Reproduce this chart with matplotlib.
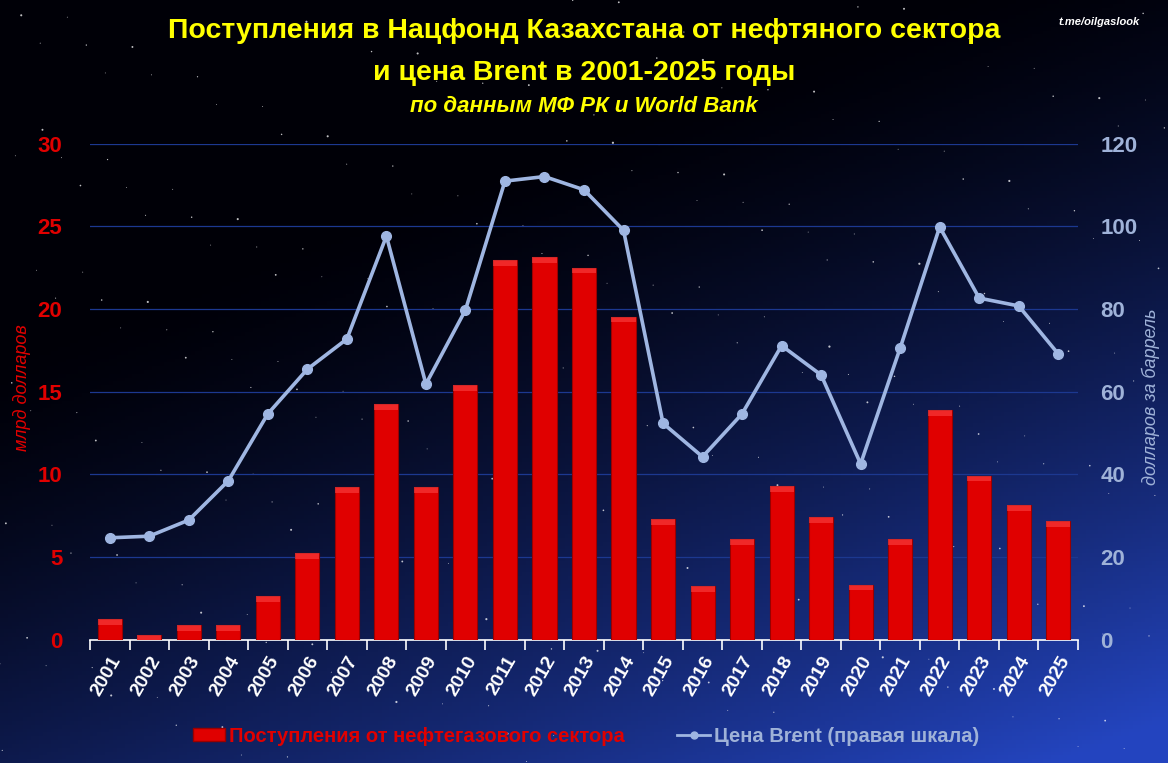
import numpy as np
import matplotlib
matplotlib.use('Agg')
import matplotlib.pyplot as plt
from matplotlib.lines import Line2D
from matplotlib.patches import Patch

years = [str(y) for y in range(2001, 2026)]
# поступления от нефтегазового сектора, млрд долларов
revenue = [1.25, 0.28, 0.89, 0.89, 2.62, 5.24, 9.24, 14.23, 9.24, 15.38,
           22.96, 23.12, 22.49, 19.53, 7.27, 3.25, 6.06, 9.27, 7.39, 3.32,
           6.06, 13.87, 9.91, 8.12, 7.15]
# цена Brent, долларов за баррель
brent = [24.6, 25.0, 28.9, 38.4, 54.6, 65.4, 72.7, 97.6, 61.8, 79.7,
         110.9, 112.0, 108.8, 99.0, 52.3, 44.2, 54.6, 71.1, 64.0, 42.5,
         70.5, 99.8, 82.6, 80.7, 69.1]

W, H = 1168, 763
FONT = ['Liberation Sans', 'DejaVu Sans']
plt.rcParams['font.family'] = FONT
plt.rcParams['font.weight'] = 'bold'

RED = '#e00000'
LINE = '#9fb6e2'
LBLUE = '#9fb2d8'

fig = plt.figure(figsize=(W / 100, H / 100), dpi=100)

# background: dark sky turning blue to the bottom right
bg = fig.add_axes([0, 0, 1, 1], zorder=-10)
u, v = np.meshgrid(np.linspace(0, 1, 300), np.linspace(0, 1, 200))
b = np.clip(v * 0.95 + u * 0.55 - 0.45, 0, 1) ** 1.4
dark = np.array([0.0, 0.0, 0.03])
blue = np.array([0.14, 0.27, 0.75])
img = dark + b[..., None] * (blue - dark)
bg.imshow(img, extent=[0, 1, 0, 1], aspect='auto', origin='upper')
# a few faint stars (decoration only)
k = np.arange(260)
sx = (k * 0.6180339887) % 1
sy = (k * 0.7548776662 + 0.13) % 1
ss = 0.4 + 2.2 * ((k * 0.41421356) % 1) ** 3
bg.scatter(sx, sy, s=ss, c='white', alpha=0.75, lw=0)
bg.set_xlim(0, 1)
bg.set_ylim(0, 1)
bg.axis('off')

ax = fig.add_axes([90 / W, 1 - 639.5 / H, (1078 - 90) / W, (639.5 - 143.5) / H])
ax.patch.set_alpha(0)
x = np.arange(len(years))

ax.bar(x, revenue, width=0.61, color=RED, edgecolor='#9a0000', linewidth=0.8, zorder=3)
# lighter top bevel on bars
ax.bar(x, [0.35] * len(x), bottom=[r - 0.35 for r in revenue], width=0.61,
       color='#ff4a4a', alpha=0.55, linewidth=0, zorder=4)

ax.set_xlim(-0.5, len(years) - 0.5)
ax.set_ylim(0, 30)
ax.set_yticks(range(0, 31, 5))
ax.grid(axis='y', color='#1c3890', linewidth=0.9, zorder=0)
ax.set_axisbelow(True)
for s in ['top', 'left', 'right']:
    ax.spines[s].set_visible(False)
ax.spines['bottom'].set_color('white')
ax.spines['bottom'].set_linewidth(1.2)
ax.tick_params(axis='y', colors=RED, length=0, labelsize=16, pad=20)
ax.set_xticks(x)
ax.set_xticklabels(years, rotation=60, ha='right', rotation_mode='anchor',
                   color='white', fontsize=14)
ax.tick_params(axis='x', which='major', length=0, pad=10)
ax.set_xticks(np.arange(-0.5, len(years), 1), minor=True)
ax.tick_params(axis='x', which='minor', length=7, color='white', width=1.2)
ax.set_ylabel('млрд долларов', color=RED, fontsize=13, style='italic')
ax.yaxis.set_label_coords(-0.06, 0.507)

ax2 = ax.twinx()
ax2.plot(x, brent, color=LINE, lw=2.6, marker='o', ms=7, zorder=5)
ax2.set_ylim(0, 120)
ax2.set_yticks(range(0, 121, 20))
for s in ['top', 'left', 'right', 'bottom']:
    ax2.spines[s].set_visible(False)
ax2.tick_params(axis='y', colors=LBLUE, length=0, labelsize=16, pad=16)
ax2.set_ylabel('долларов за баррель', color=LBLUE, fontsize=13, style='italic',
               rotation=90)
ax2.yaxis.set_label_coords(1.064, 0.49)

fig.text(0.5, 1 - 31 / H, 'Поступления в Нацфонд Казахстана от нефтяного сектора',
         ha='center', va='center', color='#ffff00', fontsize=20.5)
fig.text(0.5, 1 - 73 / H, 'и цена Brent в 2001-2025 годы',
         ha='center', va='center', color='#ffff00', fontsize=20.5)
fig.text(0.5, 1 - 106 / H, 'по данным МФ РК и World Bank',
         ha='center', va='center', color='#ffff00', fontsize=16, style='italic')
fig.text(1099 / W, 1 - 22 / H, 't.me/oilgaslook', ha='center', va='center',
         color='white', fontsize=8, style='italic')

handles = [Patch(facecolor=RED, edgecolor='#9a0000'),
           Line2D([0], [0], color=LINE, lw=2, marker='o', ms=5)]
leg = fig.legend(handles, ['Поступления от нефтегазового сектора', 'Цена Brent (правая шкала)'],
                 loc='center', bbox_to_anchor=(586 / W, 1 - 736 / H), ncol=2,
                 frameon=False, fontsize=14.5, columnspacing=2.6, handlelength=1.6,
                 handleheight=0.6, handletextpad=0.2)
for t, c in zip(leg.get_texts(), [RED, LBLUE]):
    t.set_color(c)

fig.savefig('out.png', dpi=100)
